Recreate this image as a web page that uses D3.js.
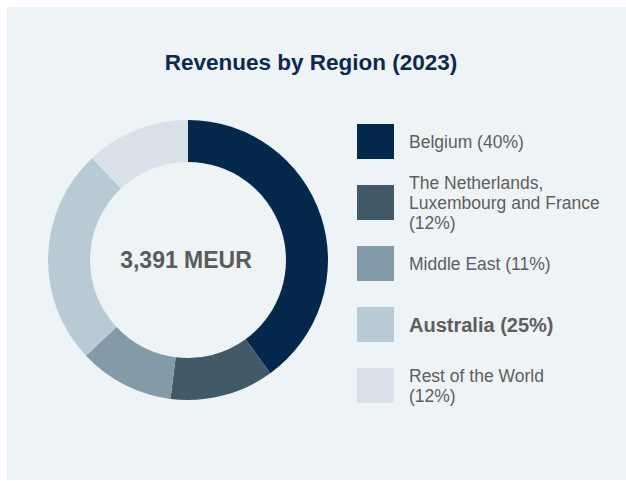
<!DOCTYPE html>
<html lang="en">
<head>
<meta charset="UTF-8">
<title>Revenues by Region (2023)</title>
<script src="https://d3js.org/d3.v7.min.js"></script>
<style>
    body { margin: 0; background: #fff; }
    text { font-family: "Liberation Sans", Arial, Helvetica, sans-serif; }
</style>
</head>
<body>
<script>
    // data
    var regions = ["Belgium", "The Netherlands, Luxembourg and France", "Middle East", "Australia", "Rest of the World"];
    var shares = [40, 12, 11, 25, 12];
    var legendLines = [
        ["Belgium (40%)"],
        ["The Netherlands,", "Luxembourg and France", "(12%)"],
        ["Middle East (11%)"],
        ["Australia (25%)"],
        ["Rest of the World", "(12%)"]
    ];
    var boldLabel = [false, false, false, true, false];
    var colors = ["#03284c", "#425a67", "#839ba8", "#b8cad3", "#d9e2e8"];
    var totalLabel = "3,391 MEUR";

    var width = 626, height = 481;

    var svg = d3.select("body").append("svg")
        .attr("width", width)
        .attr("height", height);

    // panel background
    svg.append("rect")
        .attr("x", 7).attr("y", 7)
        .attr("width", width - 7).attr("height", height - 8)
        .attr("fill", "#eef3f6");

    svg.append("text")
        .attr("x", 311).attr("y", 70)
        .attr("text-anchor", "middle")
        .attr("font-size", 22.5)
        .attr("font-weight", "bold")
        .attr("fill", "#0b2a4e")
        .text("Revenues by Region (2023)");

    // donut
    var cx = 188, cy = 260, outerR = 140, innerR = 98;
    var pie = d3.pie().sort(null).value(function(d) { return d; });
    var arc = d3.arc().innerRadius(innerR).outerRadius(outerR);

    var g = svg.append("g").attr("transform", "translate(" + cx + "," + cy + ")");
    g.selectAll("path")
        .data(pie(shares))
        .enter()
        .append("path")
        .attr("d", arc)
        .attr("fill", function(d, i) { return colors[i]; });

    g.append("text")
        .attr("x", -2)
        .attr("text-anchor", "middle")
        .attr("dy", "0.35em")
        .attr("font-size", 23)
        .attr("font-weight", "bold")
        .attr("fill", "#5b5b5b")
        .text(totalLabel);

    // legend
    var ly = d3.scaleBand().domain(d3.range(regions.length)).range([124, 429]).paddingInner(0);
    var legend = svg.selectAll(".leg")
        .data(regions)
        .enter()
        .append("g")
        .attr("class", "leg")
        .attr("transform", function(d, i) { return "translate(357," + ly(i) + ")"; });

    legend.append("rect")
        .attr("width", 37).attr("height", 35)
        .attr("fill", function(d, i) { return colors[i]; });

    legend.append("text")
        .attr("x", 52)
        .attr("font-size", function(d, i) { return boldLabel[i] ? 20 : 17.5; })
        .attr("font-weight", function(d, i) { return boldLabel[i] ? "bold" : "normal"; })
        .attr("fill", "#5e5e5e")
        .each(function(d, i) {
            var lines = legendLines[i];
            var t = d3.select(this);
            var first = 18 - (lines.length - 1) * 10;
            lines.forEach(function(s, k) {
                t.append("tspan")
                    .attr("x", 52)
                    .attr("y", first + k * 20)
                    .attr("dy", "0.35em")
                    .text(s);
            });
        });
</script>
</body>
</html>
